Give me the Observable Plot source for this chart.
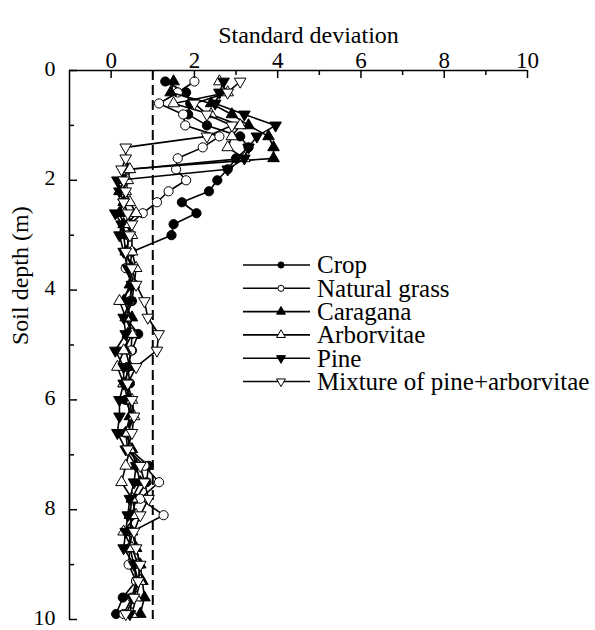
<!DOCTYPE html>
<html><head><meta charset="utf-8">
<script src="https://cdn.jsdelivr.net/npm/d3@7"></script>
<script src="https://cdn.jsdelivr.net/npm/@observablehq/plot@0.6"></script>
<style>
body{margin:0;background:#fff;}
#wrap{position:relative;width:595px;height:630px;font-family:"Liberation Serif","Times New Roman",serif;}
#legend{position:absolute;left:0;top:0;pointer-events:none;}
</style></head><body><div id="wrap"></div>
<script>
// ---- data ----
const depth = [0.2,0.4,0.6,0.8,1.0,1.2,1.4,1.6,1.8,2.0,2.2,2.4,2.6,2.8,3.0,
  3.3,3.6,3.9,4.2,4.5,4.8,5.1,5.4,5.7,6.0,6.3,6.6,6.9,7.2,7.5,7.8,8.1,8.4,8.7,9.0,9.3,9.6,9.9];
const seriesNames = ["Crop","Natural grass","Caragana","Arborvitae","Pine","Mixture of pine+arborvitae"];
const crop = [1.3,1.8,1.9,1.85,2.3,3.1,3.3,3.0,2.8,2.55,2.35,1.7,2.05,1.5,1.45,
  0.5,0.45,0.55,0.5,0.35,0.65,0.5,0.4,0.45,0.35,0.5,0.4,0.45,0.9,0.85,0.6,0.5,0.45,0.45,0.55,0.6,0.28,0.12];
const naturalGrass = [2.0,1.6,1.15,1.73,1.78,2.6,2.2,1.6,1.56,1.8,1.38,1.1,0.76,0.45,0.4,
  0.4,0.35,0.5,0.45,0.4,0.5,0.48,0.4,0.35,0.45,0.5,0.35,0.4,0.8,1.15,0.7,1.26,0.5,0.45,0.42,0.6,0.5,0.3];
const caragana = [1.5,1.43,2.4,2.9,3.3,3.78,3.9,3.9,0.4,0.3,0.2,0.3,0.2,0.3,0.3,
  0.35,0.5,0.45,0.3,0.5,0.4,0.35,0.45,0.3,0.4,0.45,0.35,0.5,0.6,0.7,0.5,0.45,0.5,0.6,0.7,0.75,0.8,0.7];
const arborvitae = [2.6,2.8,1.5,2.4,3.1,2.9,2.8,3.2,0.45,0.4,0.35,0.45,0.6,0.4,0.5,
  0.5,0.6,0.55,0.2,0.35,0.5,0.3,0.15,0.3,0.5,0.55,0.4,0.45,0.35,0.25,0.5,0.6,0.3,0.5,0.65,0.7,0.6,0.5];
const pine = [2.7,2.6,2.5,3.2,3.95,3.5,3.3,3.2,2.8,0.15,0.2,0.3,0.1,0.25,0.2,
  0.3,0.4,0.5,0.45,0.3,0.35,0.1,0.3,0.3,0.2,0.2,0.15,0.35,0.6,0.55,0.45,0.4,0.35,0.3,0.55,0.65,0.5,0.45];
const mixture = [3.1,2.8,2.0,2.3,2.9,2.3,0.35,0.35,0.25,0.3,0.35,0.3,0.4,0.5,0.45,
  0.35,0.5,0.6,0.8,0.88,1.14,1.1,0.6,0.4,0.5,0.55,0.5,0.4,0.7,0.8,0.9,0.7,0.55,0.6,0.7,0.65,0.55,0.35];
const seriesValues = [crop, naturalGrass, caragana, arborvitae, pine, mixture];
const xTicks = [0,2,4,6,8,10];
const xMinor = [1,3,5,7,9];
const yTicks = [0,2,4,6,8,10];
const yMinor = [1,3,5,7,9];
const referenceLine = [1];
const xDomain = [-1,10];
const yDomain = [0,10];

// ---- layout ----
const W = 595, H = 630;
const mL = 69, mR = 68, mT = 70, mB = 11;
const pxX = (W - mL - mR) / (xDomain[1]-xDomain[0]);
const pxY = (H - mT - mB) / (yDomain[1]-yDomain[0]);
const font = "Liberation Serif";

const triDown = {draw(ctx, size){ const y = -Math.sqrt(size/(Math.sqrt(3)*3)); ctx.moveTo(0,-2*y); ctx.lineTo(-Math.sqrt(3)*y, y); ctx.lineTo(Math.sqrt(3)*y, y); ctx.closePath(); }};
const styles = [
  {symbol: "circle", fill: "black", r: 4.6},
  {symbol: "circle", fill: "white", r: 4.6},
  {symbol: "triangle", fill: "black", r: 4.3},
  {symbol: "triangle", fill: "white", r: 4.3},
  {symbol: triDown, fill: "black", r: 4.3},
  {symbol: triDown, fill: "white", r: 4.3}
];

const rows = [];
seriesNames.forEach((s, k) => seriesValues[k].forEach((v, i) => rows.push({series: s, k, depth: depth[i], value: v})));

const marks = [
  Plot.ruleX(referenceLine, {y1: yDomain[0], y2: yDomain[1], stroke: "black", strokeWidth: 2, strokeDasharray: "10,5"})
];
seriesNames.forEach((s, k) => {
  const d = rows.filter(r => r.k === k);
  marks.push(Plot.line(d, {x: "value", y: "depth", stroke: "black", strokeWidth: 1.6}));
  marks.push(Plot.dot(d, {x: "value", y: "depth", symbol: () => styles[k].symbol, fill: styles[k].fill, stroke: "black", strokeWidth: 1, r: styles[k].r}));
});
marks.push(
  Plot.ruleY([yDomain[0]], {x1: xDomain[0], x2: xDomain[1], stroke: "black", strokeWidth: 1.5}),
  Plot.ruleX([xDomain[0]], {y1: yDomain[0], y2: yDomain[1], stroke: "black", strokeWidth: 1.5}),
  Plot.ruleX(xTicks, {y1: 0, y2: 8/pxY, stroke: "black", strokeWidth: 1.5}),
  Plot.ruleX(xMinor, {y1: 0, y2: 5/pxY, stroke: "black", strokeWidth: 1.5}),
  Plot.ruleY(yTicks, {x1: xDomain[0], x2: xDomain[0] + 8/pxX, stroke: "black", strokeWidth: 1.5}),
  Plot.ruleY(yMinor, {x1: xDomain[0], x2: xDomain[0] + 5/pxX, stroke: "black", strokeWidth: 1.5}),
  Plot.axisX({anchor: "top", ticks: xTicks, tickSize: 0, tickPadding: 3, fontSize: 23, label: null}),
  Plot.axisY({anchor: "left", ticks: yTicks, tickSize: 0, tickPadding: 14, fontSize: 22, dy: -2, label: null}),
  Plot.text(["Standard deviation"], {frameAnchor: "top", dx: 10, dy: -45, fontSize: 24, text: d => d}),
  Plot.text(["Soil depth (m)"], {frameAnchor: "left", dx: -49, rotate: -90, fontSize: 24, text: d => d})
);

const chart = Plot.plot({
  width: W, height: H,
  marginLeft: mL, marginRight: mR, marginTop: mT, marginBottom: mB,
  x: {domain: xDomain},
  y: {domain: yDomain, reverse: true},
  style: {fontFamily: font, fontSize: "23px", background: "white", color: "black"},
  marks
});
const wrap = document.getElementById("wrap");
wrap.appendChild(chart);

// ---- legend ----
const leg = d3.select(wrap).append("svg").attr("id","legend").attr("width", W).attr("height", H);
const legTop = 265, legStep = 23.3, lx1 = 243, lx2 = 310, lsym = 281, ltext = 317;
const legSyms = [d3.symbolCircle, d3.symbolCircle, d3.symbolTriangle, d3.symbolTriangle, triDown, triDown];
seriesNames.forEach((s, k) => {
  const y = legTop + k*legStep;
  const g = leg.append("g");
  g.append("line").attr("x1", lx1).attr("x2", lx2).attr("y1", y).attr("y2", y).attr("stroke","black").attr("stroke-width",1.6);
  g.append("path").attr("d", d3.symbol(legSyms[k], k < 2 ? 30 : 34)()).attr("transform", `translate(${lsym},${y})`)
    .attr("fill", styles[k].fill).attr("stroke","black").attr("stroke-width",1);
  g.append("text").attr("x", ltext).attr("y", y + 8.3).attr("font-family", font).attr("font-size", 25).text(s);
});
</script></body></html>
